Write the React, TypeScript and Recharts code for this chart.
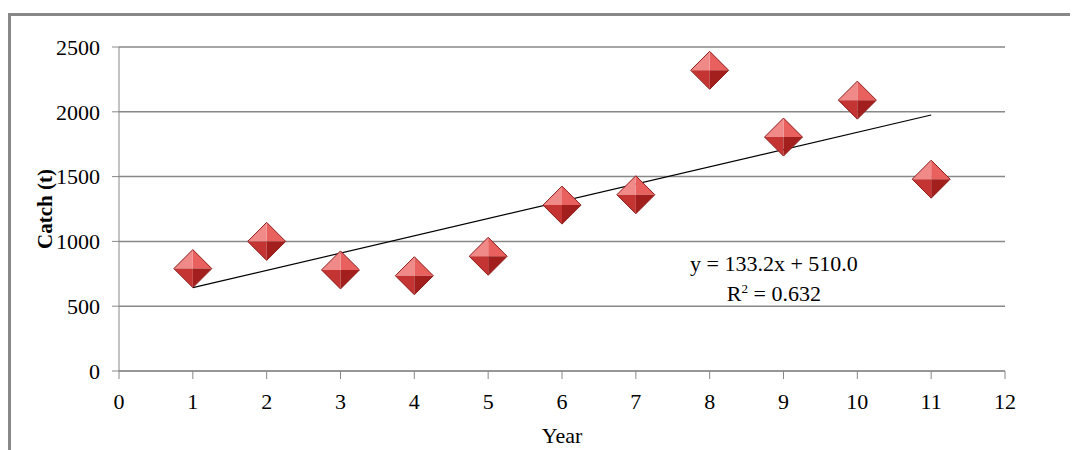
import React from 'react';
import { ComposedChart, Scatter, Line, XAxis, YAxis, CartesianGrid } from 'recharts';

const years = [1, 2, 3, 4, 5, 6, 7, 8, 9, 10, 11];
const catchValues = [790, 1000, 780, 735, 885, 1280, 1360, 2320, 1805, 2090, 1480];
const xTicks = [0, 1, 2, 3, 4, 5, 6, 7, 8, 9, 10, 11, 12];
const yTicks = [0, 500, 1000, 1500, 2000, 2500];
const slope = 133.2;
const intercept = 510.0;

const data = years.map((year, i) => ({
  year,
  value: catchValues[i],
  trend: i === 0 || i === years.length - 1 ? slope * year + intercept : null,
}));

const FONT = '"Liberation Serif", "Times New Roman", serif';

const Diamond = (props: any) => {
  const { cx, cy } = props;
  const r = 19;
  return (
    <g>
      <polygon points={`${cx},${cy - r} ${cx + r},${cy} ${cx},${cy}`} fill="#e8615f" />
      <polygon points={`${cx},${cy - r} ${cx - r},${cy} ${cx},${cy}`} fill="#f08a88" />
      <polygon points={`${cx - r},${cy} ${cx},${cy + r} ${cx},${cy}`} fill="#c33432" />
      <polygon points={`${cx + r},${cy} ${cx},${cy + r} ${cx},${cy}`} fill="#a21f1d" />
      <polygon
        points={`${cx},${cy - r} ${cx + r},${cy} ${cx},${cy + r} ${cx - r},${cy}`}
        fill="none"
        stroke="#8e1c1a"
        strokeWidth={1}
      />
    </g>
  );
};

export default function App() {
  return (
    <div style={{ position: 'relative', margin: '-8px -8px 0 -8px', width: 1078, height: 450, background: '#fff', overflow: 'hidden' }}>
      <div
        style={{
          position: 'absolute',
          left: 8,
          top: 13,
          width: 1080,
          height: 440,
          borderLeft: '3px solid #888',
          borderTop: '3px solid #888',
        }}
      />
      <div style={{ position: 'absolute', left: 0, top: 0 }}>
        <ComposedChart width={1078} height={450} data={data} margin={{ top: 47, right: 73, left: 59, bottom: 49 }}>
          <CartesianGrid vertical={false} stroke="#888" strokeWidth={1.5} />
          <XAxis
            dataKey="year"
            type="number"
            domain={[0, 12]}
            ticks={xTicks}
            interval={0}
            height={30}
            stroke="#888"
            tickSize={8}
            tickMargin={14}
            tick={{ fill: '#000', fontSize: 22, fontFamily: FONT }}
          />
          <YAxis
            type="number"
            domain={[0, 2500]}
            ticks={yTicks}
            width={60}
            stroke="#888"
            tickSize={7}
            tickMargin={12}
            tick={{ fill: '#000', fontSize: 22, fontFamily: FONT }}
            label={{
              value: 'Catch (t)',
              angle: -90,
              position: 'insideLeft',
              offset: -14,
              style: { textAnchor: 'middle', fontWeight: 'bold', fill: '#000', fontSize: 21, fontFamily: FONT },
            }}
          />
          <Line dataKey="trend" connectNulls stroke="#000" strokeWidth={1.2} dot={false} isAnimationActive={false} />
          <Scatter dataKey="value" shape={<Diamond />} isAnimationActive={false} />
        </ComposedChart>
      </div>
      <div style={{ position: 'absolute', left: 0, width: 1124, top: 423, textAlign: 'center', fontFamily: FONT, fontSize: 22 }}>
        Year
      </div>
      <div style={{ position: 'absolute', left: 690, top: 249, fontFamily: FONT, fontSize: 22, textAlign: 'center', lineHeight: '30px' }}>
        <div>y = 133.2x + 510.0</div>
        <div>
          R<span style={{ fontSize: 13, verticalAlign: 'top', lineHeight: '20px' }}>2</span> = 0.632
        </div>
      </div>
    </div>
  );
}
